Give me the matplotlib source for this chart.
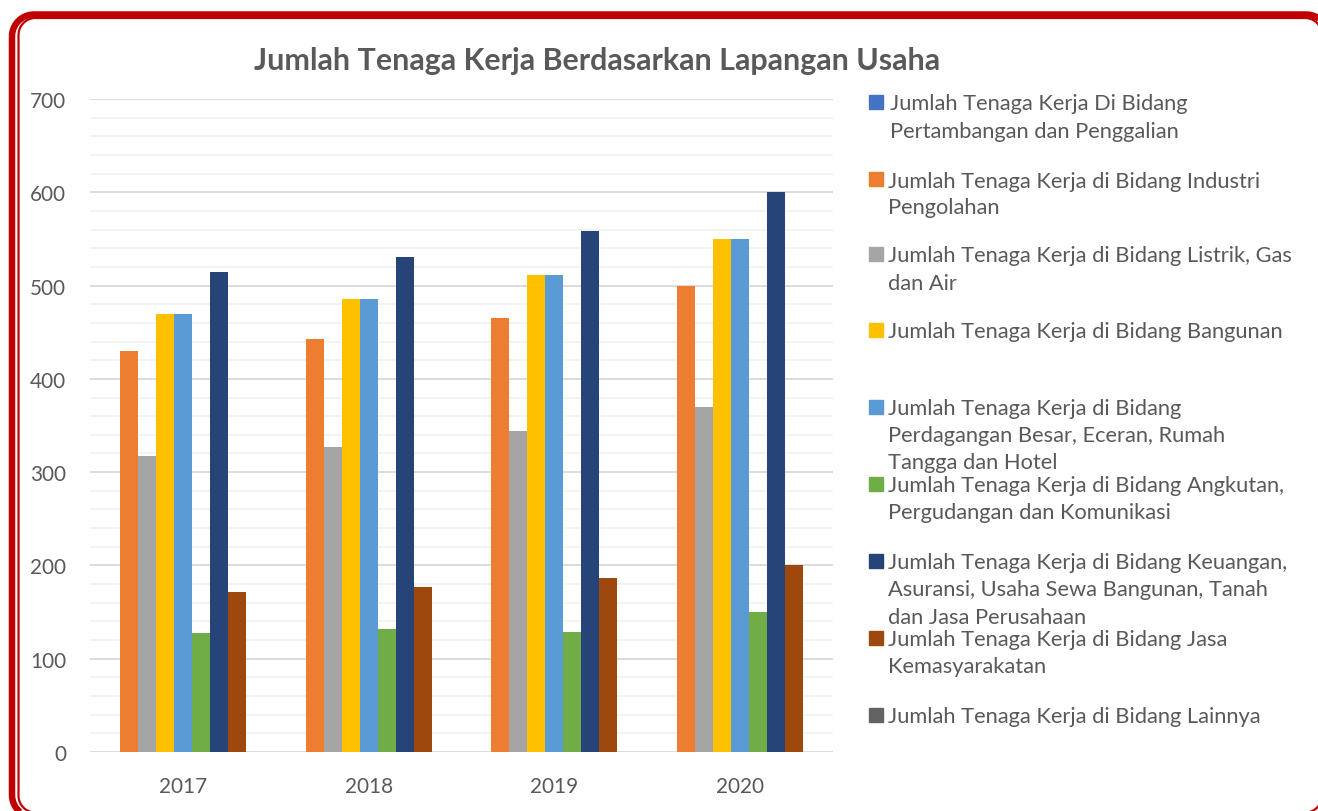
import matplotlib
matplotlib.use("Agg")
import matplotlib.pyplot as plt
import numpy as np
from matplotlib.patches import Rectangle, PathPatch
from matplotlib.path import Path
from matplotlib.transforms import IdentityTransform
from matplotlib.lines import Line2D

years = ["2017", "2018", "2019", "2020"]
series_names = [
    "Jumlah Tenaga Kerja Di Bidang\nPertambangan dan Penggalian",
    "Jumlah Tenaga Kerja di Bidang Industri\nPengolahan",
    "Jumlah Tenaga Kerja di Bidang Listrik, Gas\ndan Air",
    "Jumlah Tenaga Kerja di Bidang Bangunan",
    "Jumlah Tenaga Kerja di Bidang\nPerdagangan Besar, Eceran, Rumah\nTangga dan Hotel",
    "Jumlah Tenaga Kerja di Bidang Angkutan,\nPergudangan dan Komunikasi",
    "Jumlah Tenaga Kerja di Bidang Keuangan,\nAsuransi, Usaha Sewa Bangunan, Tanah\ndan Jasa Perusahaan",
    "Jumlah Tenaga Kerja di Bidang Jasa\nKemasyarakatan",
    "Jumlah Tenaga Kerja di Bidang Lainnya",
]
pertambangan = [0, 0, 0, 0]
industri = [430, 443, 465, 500]
listrik = [317, 327, 344, 370]
bangunan = [470, 486, 511, 550]
perdagangan = [470, 486, 511, 550]
angkutan = [128, 132, 129, 150]
keuangan = [515, 531, 558, 600]
jasa = [172, 177, 186, 200]
lainnya = [0, 0, 0, 0]
values = [pertambangan, industri, listrik, bangunan, perdagangan,
          angkutan, keuangan, jasa, lainnya]
colors = ["#4472C4", "#ED7D31", "#A5A5A5", "#FFC000", "#5B9BD5",
          "#70AD47", "#264478", "#9E480E", "#636363"]
title = "Jumlah Tenaga Kerja Berdasarkan Lapangan Usaha"

TXT = "#595959"
FONT = "Lato"
W, H = 1318, 812
fig = plt.figure(figsize=(W / 100, H / 100), dpi=100)
fig.patch.set_facecolor("white")
renderer = fig.canvas.get_renderer()


def fit_size(s, target_px, weight="normal"):
    t = fig.text(0, 0, s, fontsize=20, family=FONT, weight=weight)
    w = t.get_window_extent(renderer).width
    t.remove()
    return 20 * target_px / w


def px(x, y):
    # image pixel coords (origin top-left) -> figure fraction
    return x / W, 1 - y / H


ax_l, ax_r, ax_t, ax_b = 90, 833, 100, 753
ax = fig.add_axes([ax_l / W, 1 - ax_b / H, (ax_r - ax_l) / W, (ax_b - ax_t) / H])

n = len(values)
bw = 1 / (n + 1.32)
x = np.arange(len(years))
for i, (vals, c) in enumerate(zip(values, colors)):
    ax.bar(x + (i - (n - 1) / 2) * bw, vals, width=bw, color=c,
           label=series_names[i].replace("\n", " "), zorder=3)

ax.set_xlim(-0.5, len(years) - 0.5)
ax.set_ylim(0, 700)
ax.set_yticks(np.arange(0, 701, 100))
ax.set_yticks(np.arange(0, 701, 20), minor=True)
ax.grid(axis="y", which="major", color="#D9D9D9", linewidth=1.3, zorder=0)
ax.grid(axis="y", which="minor", color="#F2F2F2", linewidth=1.3, zorder=0)
ax.set_axisbelow(True)
for sp in ax.spines.values():
    sp.set_visible(False)
ax.set_xticks(x)
ax.set_xticklabels(years)

tick_fs = fit_size("2017", 48)
ax.tick_params(axis="both", which="both", length=0, colors=TXT, labelsize=tick_fs)
ax.tick_params(axis="y", pad=17.3)
ax.tick_params(axis="x", pad=28.5)
for lab in ax.get_xticklabels() + ax.get_yticklabels():
    lab.set_family(FONT)
for lab in ax.get_xticklabels():
    lab.set_va("baseline")

# title
title_fs = fit_size(title, 685, weight="bold")
fig.text(*px(597.5, 70), title, ha="center", va="baseline", fontsize=title_fs,
         family=FONT, weight="bold", color=TXT)

# legend (manual)
leg_fs = fit_size("Jumlah Tenaga Kerja di Bidang Bangunan", 397)
leg_tops = [96, 173, 248, 324, 401, 478, 555, 632, 709]
for i, (name, c, top) in enumerate(zip(series_names, colors, leg_tops)):
    fig.patches.append(Rectangle((869, H - top - 14), 14, 14, color=c,
                                 transform=IdentityTransform(), figure=fig))
    tx = 890.5 if i == 0 else 888.5
    for j, line in enumerate(name.split("\n")):
        fig.text(*px(tx, top + 14.5 + 27 * j), line, ha="left", va="baseline",
                 fontsize=leg_fs, family=FONT, color=TXT)


# border: rounded frame that runs off the right and bottom edges
def rounded_frame(x0, y0, x1, y1, r):
    pts = []
    for cx, cy, a0 in [(x0 + r, y0 + r, 180), (x1 - r, y0 + r, 270),
                       (x1 - r, y1 - r, 0), (x0 + r, y1 - r, 90)]:
        a = np.deg2rad(np.linspace(a0, a0 + 90, 20))
        pts += list(zip(cx + r * np.cos(a), cy + r * np.sin(a)))
    pts.append(pts[0])
    pts = np.array(pts)
    pts[:, 1] = H - pts[:, 1]
    return Path(pts)


outer = PathPatch(rounded_frame(12, 15.5, 1328, 818, 22), fill=False,
                  edgecolor="#C00000", linewidth=6.5 * 0.72,
                  transform=IdentityTransform(), figure=fig)
inner = PathPatch(rounded_frame(18.5, 19, 1322, 813.6, 17), fill=False,
                  edgecolor="#C00000", linewidth=2.2 * 0.72,
                  transform=IdentityTransform(), figure=fig)
fig.patches.extend([outer, inner])

fig.savefig("out.png", dpi=100)
